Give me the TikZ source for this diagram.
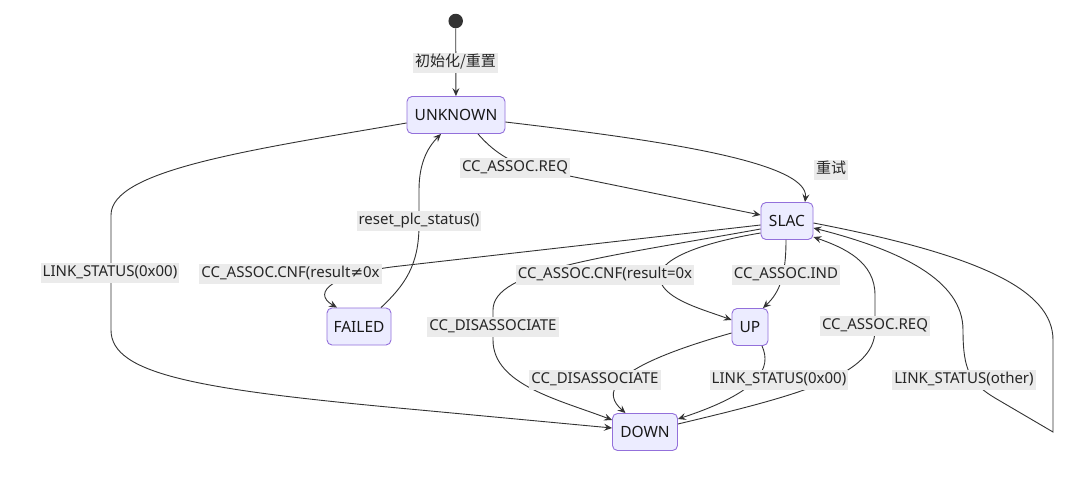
\documentclass[tikz,border=0pt]{standalone}
\usepackage{fontspec}
\setmainfont{Noto Sans}
\newfontfamily\cjk{Noto Sans CJK SC}
\newfontfamily\symf{DejaVu Sans}
\usetikzlibrary{arrows.meta}
\definecolor{nodefill}{HTML}{ECECFF}
\definecolor{nodedraw}{HTML}{9370DB}
\definecolor{edgec}{HTML}{333333}
\definecolor{lblbg}{HTML}{EBEBEB}
\begin{document}
\begin{tikzpicture}[x=1pt,y=-1pt,
  state/.style={draw=nodedraw, fill=nodefill, rounded corners=5pt, line width=0.9pt,
    minimum height=37pt, inner sep=0pt, font=\fontsize{15.5}{18}\selectfont, text=black!90},
  lbl/.style={fill=lblbg, inner xsep=2pt, inner ysep=2.5pt, text height=11pt, text depth=4pt,
    font=\fontsize{15}{18}\selectfont, text=black!85},
  tr/.style={draw=edgec, line width=0.9pt, -{Stealth[length=8pt,width=7pt,inset=3pt]}},
  ln/.style={draw=edgec, line width=0.9pt}]
\useasboundingbox (0,0) rectangle (1080,479);
\fill[white] (0,0) rectangle (1080,479);

% states
\node[circle, fill=edgec, minimum size=14.5pt, inner sep=0pt] (start) at (455.7,21) {};
\node[state, minimum width=98pt] (UNKNOWN) at (456,115) {UNKNOWN};
\node[state, minimum width=52pt] (SLAC) at (787,221) {SLAC};
\node[state, minimum width=64pt] (FAILED) at (359,326.5) {FAILED};
\node[state, minimum width=36pt] (UP) at (750,327) {UP};
\node[state, minimum width=65pt] (DOWN) at (645,432) {DOWN};

% transitions
\draw[tr] (start) -- (UNKNOWN);
\draw[tr] ([yshift=-8pt]UNKNOWN.west) .. controls (250,150) and (111,170) .. (111,215)
   -- (111,330) .. controls (111,375) and (200,390) .. (420,410) -- ([yshift=4pt]DOWN.west);
\draw[tr] ([xshift=22pt]UNKNOWN.south) .. controls (492,150) and (510,164) .. (540,170)
   -- ([yshift=6pt]SLAC.west);
\draw[tr] ([yshift=-7pt]UNKNOWN.east) .. controls (640,138) and (810,160) .. ([xshift=18pt]SLAC.north);
\draw[tr] ([yshift=-4pt]SLAC.west) -- (400,266) .. controls (335,273) and (310,292) .. ([xshift=-22pt]FAILED.north);
\draw[tr] ([xshift=22pt]FAILED.north) .. controls (405,285) and (419,265) .. (419,225)
   -- (419,190) .. controls (419,160) and (430,145) .. ([xshift=-15pt]UNKNOWN.south);
\draw[tr] ([yshift=-8pt]SLAC.west) .. controls (600,258) and (493,270) .. (493,310)
   -- (493,340) .. controls (493,385) and (560,400) .. ([yshift=12pt]DOWN.west);
\draw[tr] ([yshift=-12pt]SLAC.west) .. controls (700,243) and (655,260) .. (660,280)
   .. controls (665,300) and (705,310) .. ([yshift=7pt]UP.west);
\draw[tr] ([xshift=-1pt]SLAC.south) .. controls (786,275) and (780,292) .. ([xshift=13pt]UP.north);
\draw[tr] ([yshift=-6pt]UP.west) .. controls (600,370) and (605,395) .. ([xshift=-19.5pt]DOWN.north);
\draw[tr] ([xshift=12pt]UP.south) .. controls (772,368) and (760,392) .. ([yshift=13pt]DOWN.east);
\draw[tr] ([yshift=8pt]DOWN.east) .. controls (800,395) and (875,375) .. (875,330)
   -- (875,295) .. controls (875,262) and (845,248) .. ([yshift=-16pt]SLAC.east);
\draw[tr] ([yshift=-2pt]SLAC.east) .. controls (980,255) and (1053,290) .. (1053,340)
   -- (1053,432) -- (995,398) .. controls (970,383) and (963,370) .. (963,330)
   .. controls (963,280) and (900,250) .. ([yshift=-7pt]SLAC.east);

% labels
\node[lbl] (l1) at (455.5,63) {\cjk 初始化/重置};
\node[lbl] (l2) at (515,168) {CC\_ASSOC.REQ};
\node[lbl] (l3) at (831,170) {\cjk 重试};
\node[lbl] (l4) at (419,221) {reset\_plc\_status()};
\node[lbl] (l5) at (110,273) {LINK\_STATUS(0x00)};
\node[lbl] (l6) at (290.5,273.5) {CC\_ASSOC.CNF(result{\symf ≠}0x};
\node[lbl] (l7) at (605,275) {CC\_ASSOC.CNF(result=0x};
\node[lbl] (l8) at (786,275) {CC\_ASSOC.IND};
\node[lbl] (l9) at (493,327) {CC\_DISASSOCIATE};
\node[lbl] (l10) at (875,326) {CC\_ASSOC.REQ};
\node[lbl] (l11) at (595,380) {CC\_DISASSOCIATE};
\node[lbl] (l12) at (779,380) {LINK\_STATUS(0x00)};
\node[lbl] (l13) at (964,380) {LINK\_STATUS(other)};
\end{tikzpicture}
\end{document}
